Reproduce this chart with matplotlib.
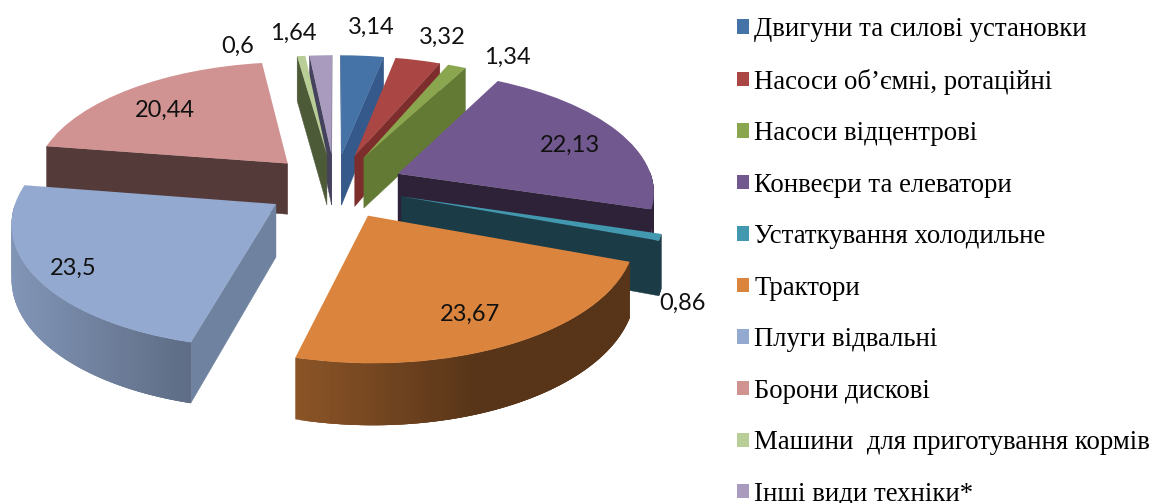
import matplotlib
matplotlib.use("Agg")
import matplotlib.pyplot as plt
import numpy as np
from matplotlib.colors import to_rgb
from matplotlib.transforms import Transform

categories = ["Двигуни та силові установки", "Насоси об’ємні, ротаційні", "Насоси відцентрові",
              "Конвеєри та елеватори", "Устаткування холодильне", "Трактори",
              "Плуги відвальні", "Борони дискові", "Машини  для приготування кормів",
              "Інші види техніки*"]
values = [3.14, 3.32, 1.34, 22.13, 0.86, 23.67, 23.5, 20.44, 0.6, 1.64]
value_labels = ["3,14", "3,32", "1,34", "22,13", "0,86", "23,67", "23,5", "20,44", "0,6", "1,64"]

top_colors = ["#4573a7", "#aa4643", "#8aa64f", "#71588f", "#4198af",
              "#db843d", "#93a9cf", "#d19392", "#b9cd96", "#a99bbd"]
wall_colors = ["#34598a", "#7d2e2c", "#637a35", "#2e2238", "#1b3b47",
               "#8a5528", "#6f82a0", "#553a3a", "#4d5a38", "#44425c"]

# label centres in pixels
label_xy = [(371, 27), (442, 37), (507, 57), (570, 145), (682, 303),
            (470, 314), (73, 268), (165, 110), (238, 46), (293, 33)]

CX, CY = 335, 186
RX, RY = 256, 120
KP = 0.13      # perspective strength
DEPTH = 52
EXPLODE = 0.27


def project(u, v, z=0.0):
    """Pie plane (u right, v back, z down in 0..1) to pixels."""
    w = 1 + KP * np.asarray(v)
    return CX + RX * np.asarray(u) / w, CY - RY * np.asarray(v) / w + DEPTH * z / w


class PieTilt(Transform):
    input_dims = 2
    output_dims = 2

    def transform_non_affine(self, values):
        x, y = project(values[:, 0], values[:, 1])
        return np.column_stack([x, y])


def signed_area(xs, ys):
    return 0.5 * np.sum(xs * np.roll(ys, -1) - np.roll(xs, -1) * ys)


def shade(color, f):
    return tuple(c * f for c in to_rgb(color))


def rim_color(i, x):
    # only the two big front slices show a visible gradient on the rim
    if i == 5:
        return shade(top_colors[i], 0.65 - 0.25 * np.clip((x - 292) / 190, 0, 1))
    if i == 6:
        return shade(top_colors[i], 0.88 - 0.24 * (x - 15) / 180)
    return wall_colors[i]


fig = plt.figure(figsize=(11.54, 5.03), dpi=100)
ax = fig.add_axes([0, 0, 1, 1])

wedges, _ = ax.pie(values, explode=[EXPLODE] * len(values), colors=top_colors,
                   startangle=90, counterclock=False, wedgeprops={"linewidth": 0})
ax.set_aspect("auto")
ax.set_xlim(0, 1154)
ax.set_ylim(503, 0)
ax.axis("off")

tilt = PieTilt()
# back to front, so the nearer slices cover the others
order = sorted(range(len(values)),
               key=lambda i: -np.sin(np.radians((wedges[i].theta1 + wedges[i].theta2) / 2)))

for rank, i in enumerate(order):
    wg = wedges[i]
    z0 = 10 * (rank + 1)
    wg.set_transform(tilt + ax.transData)
    wg.set_zorder(z0 + 3)
    cu, cv = wg.center

    # flat cut faces
    for th in (wg.theta1, wg.theta2):
        eu, ev = cu + np.cos(np.radians(th)), cv + np.sin(np.radians(th))
        xa, ya = project(np.array([cu, eu, eu, cu]), np.array([cv, ev, ev, cv]),
                         np.array([0, 0, 1, 1]))
        # keep only faces turned to the viewer
        sgn = signed_area(xa, ya)
        if (th == wg.theta1 and sgn > 0) or (th == wg.theta2 and sgn < 0):
            ax.fill(xa, ya, color=wall_colors[i], lw=0.3, zorder=z0 + 1)

    # rim, drawn in strips for the gradient, each one running under the next
    ths = np.radians(np.linspace(wg.theta1, wg.theta2, 90))
    step = ths[1] - ths[0]
    for a in ths[:-1]:
        if np.sin(a + step / 2) > 0:
            continue
        b = min(a + 3 * step, ths[-1])
        us = cu + np.cos([a, b, b, a])
        vs = cv + np.sin([a, b, b, a])
        xa, ya = project(us, vs, np.array([0, 0, 1, 1]))
        ax.fill(xa, ya, color=rim_color(i, xa.mean()), lw=0, zorder=z0 + 2)

for (lx, ly), txt in zip(label_xy, value_labels):
    ax.text(lx, ly, txt, ha="center", va="center", fontsize=17, family="Lato",
            color="#111111", zorder=500)

ax.legend(wedges, categories, loc="upper left", bbox_to_anchor=(737, 17),
          bbox_transform=ax.transData, frameon=False, borderpad=0, borderaxespad=0,
          prop={"family": "Liberation Serif", "size": 19.3},
          handlelength=0.45, handleheight=0.45, handletextpad=0.19, labelspacing=0.99)

fig.savefig("out.png", dpi=100)
